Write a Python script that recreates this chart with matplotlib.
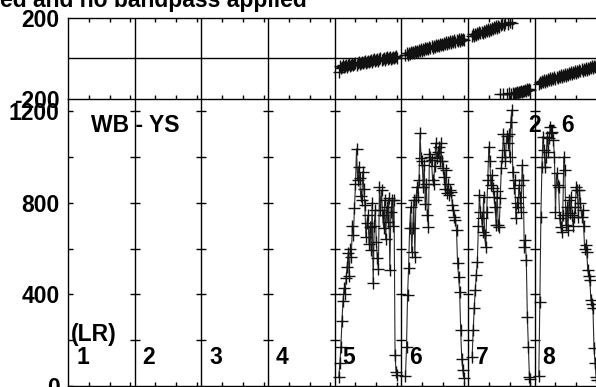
import matplotlib
matplotlib.use("Agg")
import matplotlib.pyplot as plt

W, H, DPI = 596, 387, 100
FONT = "Liberation Sans"
FS = 16.5

# ---------------- data ----------------
if_labels = ["1", "2", "3", "4", "5", "6", "7", "8"]
n_chan = 64
channels = list(range(4, 61))
data_ifs = [5, 6, 7, 8]

amp_if5 = [41, 100, 171, 283, 371, 426, 400, 470, 520, 580,
           480, 600, 565, 700, 659, 775, 880, 1035, 900, 957,
           907, 830, 811, 935, 860, 790, 650, 710, 746, 620,
           695, 593, 800, 448, 700, 768, 630, 560, 509, 869,
           770, 855, 746, 690, 811, 640, 783, 717, 820, 505,
           760, 811, 700, 811, 135, 60, 48]
amp_if6 = [45, 171, 397, 516, 690, 782, 586, 690, 811, 565,
           811, 870, 826, 900, 1102, 993, 980, 870, 965, 796,
           880, 746, 695, 1014, 1000, 985, 900, 883, 960, 1060,
           993, 1020, 1045, 980, 1059, 980, 950, 913, 860, 943,
           841, 880, 833, 855, 848, 790, 768, 739, 724, 680,
           536, 477, 411, 243, 120, 70, 35]
amp_if7 = [128, 244, 340, 419, 484, 542, 700, 833, 760, 735,
           673, 826, 658, 607, 760, 900, 1044, 980, 877, 920,
           862, 826, 780, 703, 850, 703, 695, 820, 953, 1000,
           1100, 1030, 980, 1090, 1060, 1100, 1000, 1150, 1204, 935,
           862, 900, 732, 800, 783, 877, 826, 760, 964, 900,
           607, 637, 549, 302, 170, 40, 30]
amp_if8 = [44, 368, 739, 957, 1088, 1030, 957, 1000, 1088, 1022,
           1081, 1131, 1102, 1110, 1074, 1000, 760, 928, 877, 869,
           731, 695, 673, 746, 1000, 942, 702, 783, 680, 811,
           754, 826, 746, 700, 739, 783, 870, 855, 739, 855,
           800, 739, 768, 700, 600, 615, 586, 505, 480, 462,
           375, 360, 339, 165, 100, 40, 25]

phase_if5 = [-66, -38, -47, -41, -35, -44, -37, -33, -42, -36,
             -30, -38, -34, -27, -35, -29, -25, -33, -26, -21,
             -30, -24, -18, -26, -21, -15, -24, -17, -12, -20,
             -15, -9, -18, -11, -6, -15, -9, -4, -12, -6,
             -1, -9, -3, 2, -7, -1, 4, -4, 1, 6,
             -3, 3, 7, -1, 4, 9, 2]
phase_if6 = [14, 24, 18, 27, 21, 30, 24, 33, 26, 36,
             30, 38, 33, 41, 35, 44, 37, 46, 41, 50,
             43, 52, 47, 55, 49, 58, 51, 61, 55, 63,
             58, 66, 60, 70, 63, 72, 67, 75, 69, 78,
             72, 80, 75, 83, 77, 86, 79, 88, 82, 90,
             84, 93, 87, 95, 89, 97, 91]
phase_if7 = [110, 118, 112, 121, 115, 124, 119, 128, 122, 131,
             126, 135, 129, 138, 133, 142, 136, 146, 140, 149,
             144, 153, 147, 157, 151, 160, 155, -178, 163, 170,
             -176, 166, 174, -179, 171, -174, 178, -177, 175, -172,
             -176, -170, -174, -167, -171, -165, -169, -162, -166, -160,
             -164, -157, -161, -154, -158, -151, -155]
phase_if8 = [-126, -116, -122, -113, -119, -109, -116, -106, -112, -103,
             -109, -100, -106, -97, -103, -94, -101, -91, -98, -88,
             -95, -85, -92, -82, -89, -79, -86, -76, -83, -73,
             -80, -70, -77, -67, -74, -64, -71, -61, -68, -58,
             -65, -55, -62, -52, -59, -49, -56, -46, -53, -43,
             -50, -40, -47, -37, -44, -35, -41]

title_text = "ed and no bandpass applied"
baseline_label = "WB - YS"
source_label = "2 - 6"
pol_label = "(LR)"

amp_ticks_major = [0, 400, 800, 1200]
amp_ticks_minor = [200, 600, 1000]
phase_ticks = [-200, 200]
phase_tick_labels = ["-200", "200"]
chan_ticks = [20, 40, 60]

# ---------------- figure ----------------
plt.rcParams['font.family'] = [FONT, 'DejaVu Sans']
plt.rcParams['font.weight'] = 'bold'

fig = plt.figure(figsize=(W / DPI, H / DPI), dpi=DPI)


def rect(x0, y0, x1, y1):
    return [x0 / W, 1 - y1 / H, (x1 - x0) / W, (y1 - y0) / H]


X0, X1 = 68, 601.3
Y_PH_TOP, Y_PH_BOT = 17.7, 98.7
Y_AM_1200, Y_AM_0 = 111.0, 386.0

ax_ph = fig.add_axes(rect(X0, Y_PH_TOP, X1, Y_PH_BOT))
ax_am = fig.add_axes(rect(X0, Y_PH_BOT, X1, Y_AM_0))

nif = len(if_labels)
xmax = nif * n_chan
ink = '#111111'

for ax in (ax_ph, ax_am):
    ax.set_xlim(0, xmax)
    ax.patch.set_alpha(0)
    for s in ax.spines.values():
        s.set_linewidth(1.0)
        s.set_color('black')
    for k in range(1, nif):
        ax.axvline(k * n_chan, color='black', lw=1.0, zorder=1)

ax_ph.set_ylim(phase_ticks[0], phase_ticks[1])
ax_ph.axhline(0, color='black', lw=1.0, zorder=1)
amp_top = amp_ticks_major[-1] * (Y_AM_0 - Y_PH_BOT) / (Y_AM_0 - Y_AM_1200)
ax_am.set_ylim(0, amp_top)
ax_am.spines['top'].set_visible(False)
ax_am.spines['right'].set_visible(False)

xt = [i * n_chan + c for i in range(nif) for c in chan_ticks]
ax_ph.set_xticks(xt)
ax_ph.tick_params(axis='x', direction='in', length=3, width=1,
                  top=True, bottom=True, labelbottom=False, labeltop=False)
ax_am.set_xticks(xt)
ax_am.tick_params(axis='x', direction='in', length=3, width=1,
                  top=False, bottom=True, labelbottom=False)

ax_ph.set_yticks(phase_ticks, phase_tick_labels)
ax_ph.tick_params(axis='y', length=0, pad=6, labelsize=FS)

ax_am.set_yticks(amp_ticks_major, [str(v) for v in amp_ticks_major])
ax_am.set_yticks(amp_ticks_minor, minor=True)
ax_am.tick_params(axis='y', which='both', direction='in', length=3.6,
                  width=1, pad=6, labelsize=FS)

tick_vals = sorted(amp_ticks_major[1:] + amp_ticks_minor)
for k in range(1, nif):
    ax_am.plot([k * n_chan] * len(tick_vals), tick_vals, ls='none',
               marker='_', ms=7.2, mew=1.0, color='black', zorder=2)

amp_by_if = {5: amp_if5, 6: amp_if6, 7: amp_if7, 8: amp_if8}
phase_by_if = {5: phase_if5, 6: phase_if6, 7: phase_if7, 8: phase_if8}
for ifn in data_ifs:
    xs = [(ifn - 1) * n_chan + c for c in channels]
    ax_am.plot(xs, amp_by_if[ifn], color='#2a2a2a', lw=0.8, zorder=3)
    ax_am.plot(xs, amp_by_if[ifn], ls='none', color=ink, marker='+',
               ms=8.5, mew=1.0, zorder=4)
    ax_ph.plot(xs, phase_by_if[ifn], ls='none', color=ink, marker='+',
               ms=8.5, mew=1.0, zorder=3)


def ftext(x, y, s):
    fig.text(x / W, 1 - y / H, s, ha='left', va='baseline',
             fontsize=FS, fontweight='bold')


ftext(0, 7, title_text)
ftext(91, 131.5, baseline_label)
ftext(529, 132, source_label)
ftext(71, 341, pol_label)
if_w = (X1 - X0) / nif
for i, lab in enumerate(if_labels):
    ftext(X0 + i * if_w + 8, 364.5, lab)

fig.savefig("out.png", dpi=DPI)
